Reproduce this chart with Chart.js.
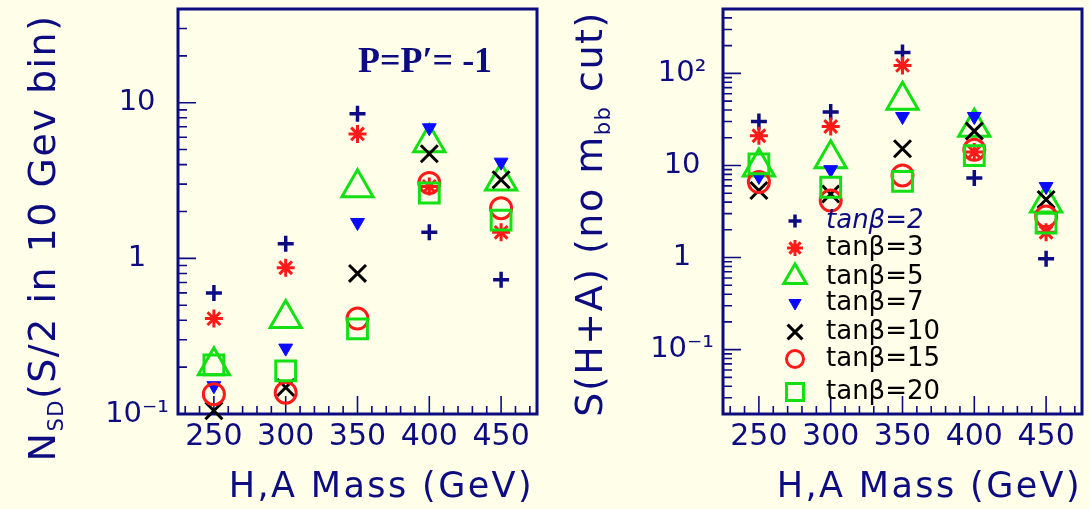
<!DOCTYPE html>
<html>
<head>
<meta charset="utf-8">
<script src="https://cdn.jsdelivr.net/npm/chart.js@4/dist/chart.umd.min.js"></script>
<style>
html,body{margin:0;padding:0;background:#fffee8;}
#wrap{position:relative;width:1089px;height:509px;overflow:hidden;background:#fffee8;}
canvas{position:absolute;top:0;}
#left{left:0;}
#right{left:545px;}
</style>
</head>
<body>
<div id="wrap">
<canvas id="left" width="545" height="509"></canvas>
<canvas id="right" width="544" height="509"></canvas>
</div>
<script>
// H,A mass points
const masses = [250, 300, 350, 400, 450];
const xTickValues = [250, 300, 350, 400, 450];
const xTickLabels = ['250', '300', '350', '400', '450'];
const tanBetaLabels = ['tanβ=2', 'tanβ=3', 'tanβ=5', 'tanβ=7', 'tanβ=10', 'tanβ=15', 'tanβ=20'];

// left panel: N_SD (S/2 in 10 GeV bin)
const nsdTb2  = [0.60, 1.24, 8.5, 1.47, 0.73];
const nsdTb3  = [0.41, 0.87, 6.3, 2.9, 1.47];
const nsdTb5  = [0.204, 0.41, 2.84, 5.54, 3.14];
const nsdTb7  = [0.152, 0.265, 1.70, 6.9, 4.15];
const nsdTb10 = [0.105, 0.148, 0.80, 4.7, 3.2];
const nsdTb15 = [0.134, 0.137, 0.41, 3.05, 2.1];
const nsdTb20 = [0.207, 0.189, 0.352, 2.63, 1.76];

// right panel: S(H+A), no m_bb cut
const sigTb2  = [30, 38, 168, 7.3, 0.97];
const sigTb3  = [21, 26.5, 122, 14, 1.88];
const sigTb5  = [9.6, 11.8, 51, 26, 3.9];
const sigTb7  = [7.6, 9.0, 34, 34, 5.9];
const sigTb10 = [5.35, 4.9, 15.2, 23.6, 4.27];
const sigTb15 = [6.6, 4.16, 7.8, 14.8, 2.79];
const sigTb20 = [10.4, 5.8, 6.7, 12.8, 2.36];

const leftYTicks = [0.1, 1, 10];
const leftYTickLabels = ['10⁻¹', '1', '10'];
const rightYTicks = [0.1, 1, 10, 100];
const rightYTickLabels = ['10⁻¹', '1', '10', '10²'];

const navy = '#0c0c80';
const red = '#ff1a1a';
const green = '#12e012';
const blue = '#0a0aff';
const clear = 'rgba(0,0,0,0)';

// marker styles per tanβ
const markers = [
  {style: 'cross',    rot: 0,   r: 8,   lr: 6.5,  bw: 3.5, line: navy,   fill: clear},
  {style: 'star',     rot: 0,   r: 9,   lr: 8,    bw: 3,   line: red,    fill: clear},
  {style: 'triangle', rot: 0,   r: 18,  lr: 13,   bw: 3,   line: green,  fill: clear},
  {style: 'triangle', rot: 180, r: 8,   lr: 7,    bw: 1,   line: blue,   fill: blue},
  {style: 'crossRot', rot: 0,   r: 12,  lr: 10.5, bw: 3,   line: '#000', fill: clear},
  {style: 'circle',   rot: 0,   r: 10.5,lr: 8.5,  bw: 3,   line: red,    fill: clear},
  {style: 'rect',     rot: 0,   r: 14,  lr: 12,   bw: 3,   line: green,  fill: clear}
];

// legend rows in the right panel (canvas px)
const legendRowsY = [221, 248, 277, 303, 332, 359, 392];
const legendMarkerX = 250;
const legendTextX = 281;

Chart.defaults.font.family = 'DejaVu Sans';
Chart.defaults.color = navy;

function buildDatasets(series){
  return series.map((vals, i) => {
    const m = markers[i];
    return {
      label: tanBetaLabels[i],
      data: masses.map((x, j) => ({x, y: vals[j]})),
      showLine: false,
      pointStyle: m.style,
      pointRotation: m.rot,
      pointRadius: m.r,
      pointBorderWidth: m.bw,
      pointBorderColor: m.line,
      pointBackgroundColor: m.fill,
      order: -i,
      clip: false
    };
  });
}

function drawRich(ctx, parts, size){
  // centred on x=0, baseline y=0; sub parts drop below
  let w = 0;
  parts.forEach(p => {
    ctx.font = (p.sub ? Math.round(size * 0.55) : size) + 'px "DejaVu Sans"';
    w += ctx.measureText(p.t).width;
  });
  let x = -w / 2;
  parts.forEach(p => {
    ctx.font = (p.sub ? Math.round(size * 0.55) : size) + 'px "DejaVu Sans"';
    ctx.fillText(p.t, x, p.sub ? size * 0.2 : 0);
    x += ctx.measureText(p.t).width;
  });
}

function noPad(s){
  s.paddingTop = 0; s.paddingBottom = 0; s.paddingLeft = 0; s.paddingRight = 0;
}

function decor(opt){
  return {
    id: 'decor',
    beforeDatasetsDraw(chart){
      const {ctx, chartArea: a, scales: {x, y}} = chart;
      ctx.save();
      ctx.strokeStyle = navy;
      ctx.lineWidth = 1.6;
      ctx.beginPath();
      for (let v = 230; v <= 470; v += 10) {
        const px = x.getPixelForValue(v);
        const len = xTickValues.includes(v) ? 18 : 8;
        ctx.moveTo(px, a.bottom); ctx.lineTo(px, a.bottom - len);
      }
      const e0 = Math.floor(Math.log10(y.min)), e1 = Math.ceil(Math.log10(y.max));
      for (let e = e0; e <= e1; e++) {
        for (let k = 1; k <= 9; k++) {
          const v = k * Math.pow(10, e);
          if (v < y.min * 0.999 || v > y.max * 1.001) continue;
          const py = y.getPixelForValue(v);
          ctx.moveTo(a.left, py); ctx.lineTo(a.left + (k === 1 ? 18 : 9), py);
        }
      }
      ctx.stroke();
      ctx.lineWidth = 3;
      ctx.strokeRect(a.left, a.top, a.right - a.left, a.bottom - a.top);
      ctx.restore();
    },
    afterDraw(chart){
      const ctx = chart.ctx;
      ctx.save();
      ctx.fillStyle = navy;
      ctx.textBaseline = 'alphabetic';
      // y title
      ctx.letterSpacing = '1.5px';
      ctx.translate(opt.yTitleX, opt.yTitleY);
      ctx.rotate(-Math.PI / 2);
      ctx.textAlign = 'left';
      drawRich(ctx, opt.yTitle, 38);
      ctx.setTransform(1, 0, 0, 1, 0, 0);
      // x title
      ctx.letterSpacing = '2.4px';
      ctx.font = '35px "DejaVu Sans"';
      ctx.textAlign = 'right';
      ctx.fillText('H,A Mass (GeV)', opt.xTitleRight, 497);
      ctx.letterSpacing = '0px';
      if (opt.note) {
        ctx.font = 'bold 36px "Liberation Serif"';
        ctx.textAlign = 'left';
        ctx.fillText(opt.note, 358, 72);
      }
      if (opt.legend) {
        chart.data.datasets.forEach((ds, i) => {
          const m = markers[i];
          const yy = legendRowsY[i];
          ctx.strokeStyle = m.line;
          ctx.fillStyle = m.fill;
          ctx.lineWidth = m.bw;
          Chart.helpers.drawPoint(ctx, {pointStyle: m.style, rotation: m.rot, radius: m.lr, borderWidth: m.bw}, legendMarkerX, yy);
          ctx.fillStyle = i === 0 ? navy : '#000';
          ctx.font = (i === 0 ? 'italic ' : '') + '26px "DejaVu Sans"';
          ctx.textAlign = 'left';
          ctx.textBaseline = 'middle';
          ctx.fillText(ds.label, legendTextX, yy);
        });
      }
      ctx.restore();
    }
  };
}

function makeChart(id, series, yMin, yMax, yTicks, yTickLabels, opt, padRight){
  return new Chart(document.getElementById(id), {
    type: 'scatter',
    data: {datasets: buildDatasets(series)},
    options: {
      responsive: false,
      animation: false,
      events: [],
      layout: {autoPadding: false, padding: {top: 9, right: padRight, left: 0, bottom: 0}},
      plugins: {legend: {display: false}, tooltip: {enabled: false}},
      scales: {
        x: {
          type: 'linear', min: 225, max: 475,
          grid: {display: false, drawTicks: false}, border: {display: false},
          ticks: {
            padding: 5, autoSkip: false, maxRotation: 0,
            font: {size: 30}, color: navy,
            callback: v => { const i = xTickValues.indexOf(v); return i >= 0 ? xTickLabels[i] : ''; }
          },
          afterBuildTicks: s => { s.ticks = xTickValues.map(v => ({value: v})); },
          afterFit: s => { s.height = 95; noPad(s); }
        },
        y: {
          type: 'logarithmic', min: yMin, max: yMax,
          grid: {display: false, drawTicks: false}, border: {display: false},
          ticks: {
            autoSkip: false, crossAlign: 'center', padding: 9,
            font: {size: 29}, color: navy,
            callback: v => {
              const i = yTicks.findIndex(t => Math.abs(t - v) / t < 1e-6);
              return i >= 0 ? yTickLabels[i] : '';
            }
          },
          afterFit: s => { s.width = 178; noPad(s); }
        }
      }
    },
    plugins: [decor(opt)]
  });
}

makeChart('left',
  [nsdTb2, nsdTb3, nsdTb5, nsdTb7, nsdTb10, nsdTb15, nsdTb20],
  0.1, 40, leftYTicks, leftYTickLabels,
  {
    yTitle: [{t: 'N'}, {t: 'SD', sub: true}, {t: '(S/2 in 10 Gev bin)'}],
    yTitleX: 55, yTitleY: 238, xTitleRight: 534, note: 'P=P′= -1', legend: false
  }, 8);

makeChart('right',
  [sigTb2, sigTb3, sigTb5, sigTb7, sigTb10, sigTb15, sigTb20],
  0.02, 500, rightYTicks, rightYTickLabels,
  {
    yTitle: [{t: 'S(H+A) (no m'}, {t: 'bb', sub: true}, {t: ' cut)'}],
    yTitleX: 57, yTitleY: 214, xTitleRight: 537, note: null, legend: true
  }, 7);
</script>
</body>
</html>
